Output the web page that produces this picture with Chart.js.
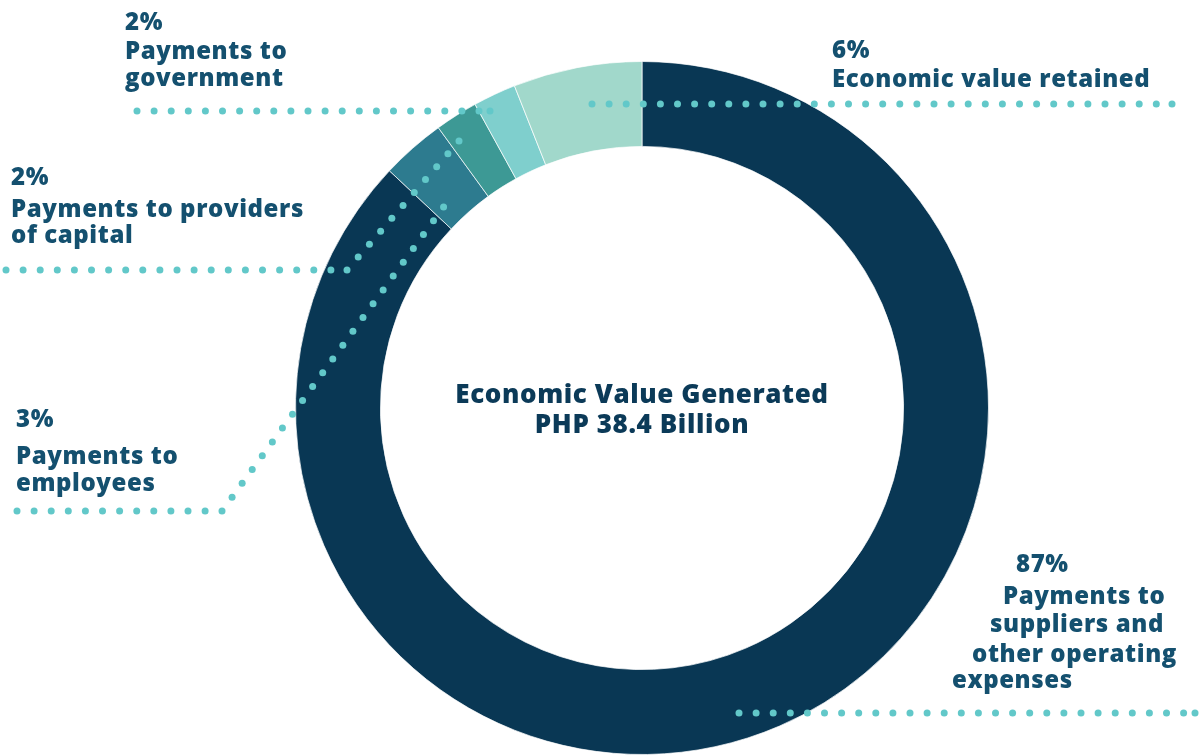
<!DOCTYPE html>
<html>
<head>
<meta charset="utf-8">
<script src="https://cdn.jsdelivr.net/npm/chart.js@4"></script>
<style>
  html, body { margin:0; padding:0; background:#fff; }
  #wrap { width:1199px; height:756px; position:relative; }
</style>
</head>
<body>
<div id="wrap"><canvas id="chart-evg"></canvas></div>
<script>
// data (clockwise from 12 o'clock)
const categories = [
  'Payments to suppliers and other operating expenses',
  'Payments to employees',
  'Payments to providers of capital',
  'Payments to government',
  'Economic value retained',
];
const shares = [87, 3, 2, 2, 6];
const centerTitle = ['Economic Value Generated', 'PHP 38.4 Billion'];

const COLORS = ['#093754', '#2d7b8f', '#3d9995', '#7fcfcd', '#a1d8cb'];
const DOT = '#62c8c9';
const TXT = '#14506f';

// label layout: text lines + leader polyline (pixels)
const LABELS = [
  { lines:[[1016,572,'87%'],[1003,604,'Payments to'],[990,632,'suppliers and'],[972,662,'other operating'],[952,688,'expenses']],
    leader:[[739,713],[1195,713]] },
  { lines:[[16,427,'3%'],[16,464,'Payments to'],[16,491,'employees']],
    leader:[[17,511],[222,511],[445,205]] },
  { lines:[[11,185,'2%'],[11,217,'Payments to providers'],[11,243,'of capital']],
    leader:[[6,270],[347,270],[459,141]] },
  { lines:[[125,30,'2%'],[125,59,'Payments to'],[125,86,'government']],
    leader:[[137,111],[490,111]] },
  { lines:[[832,58,'6%'],[832,87,'Economic value retained']],
    leader:[[592,104],[1172,104]] },
];

function dotsAlong(ctx, pts, step, r) {
  for (let i = 0; i < pts.length - 1; i++) {
    const [x0,y0] = pts[i], [x1,y1] = pts[i+1];
    const len = Math.hypot(x1-x0, y1-y0);
    const n = Math.floor(len / step);
    for (let k = (i === 0 ? 0 : 1); k <= n; k++) {
      const t = k*step/len;
      ctx.beginPath(); ctx.arc(x0+(x1-x0)*t, y0+(y1-y0)*t, r, 0, Math.PI*2); ctx.fill();
    }
    if (n*step < len - 4) { ctx.beginPath(); ctx.arc(x1, y1, r, 0, Math.PI*2); ctx.fill(); }
  }
}

const labelsPlugin = {
  id:'labels',
  afterDraw(chart) {
    const ctx = chart.ctx;
    const meta = chart.getDatasetMeta(0).data[0];
    ctx.save();
    // center text
    ctx.fillStyle = '#0b3a58';
    ctx.font = '800 26px "Open Sans"';
    ctx.letterSpacing = '0.6px';
    ctx.textAlign = 'center';
    ctx.fillText(centerTitle[0], meta.x, 403);
    ctx.fillText(centerTitle[1], meta.x, 433);
    // leaders
    ctx.fillStyle = DOT;
    LABELS.forEach(l => dotsAlong(ctx, l.leader, 17.1, 3.5));
    // label text
    ctx.fillStyle = TXT;
    ctx.textAlign = 'left';
    ctx.font = '800 24px "Open Sans"';
    ctx.letterSpacing = '0.6px';
    LABELS.forEach(l => l.lines.forEach(([x,y,t]) => ctx.fillText(t, x, y)));
    ctx.restore();
  }
};

new Chart(document.getElementById('chart-evg'), {
  type:'doughnut',
  data:{
    labels:categories,
    datasets:[{
      data:shares,
      backgroundColor:COLORS,
      borderColor:'rgba(255,255,255,0.7)',
      borderWidth:1,
    }]
  },
  options:{
    responsive:true, maintainAspectRatio:false,
    animation:false,
    cutout:'75.5%',
    layout:{padding:{left:295, right:210, top:61, bottom:1}},
    plugins:{ legend:{display:false}, tooltip:{enabled:false} },
  },
  plugins:[labelsPlugin]
});
</script>
</body>
</html>
